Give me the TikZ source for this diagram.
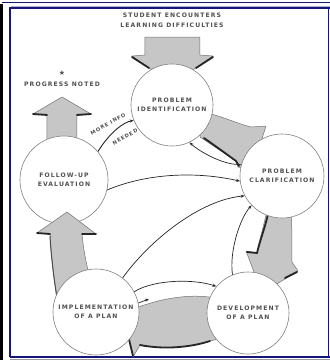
\documentclass[tikz,border=0pt]{standalone}
\usepackage{fontspec}
\newfontfamily\lblfont[LetterSpace=18]{DejaVu Sans}
\newfontfamily\symfont{DejaVu Sans}
\usetikzlibrary{arrows.meta}
\definecolor{navy}{RGB}{22,22,120}
\definecolor{bandgray}{RGB}{198,198,198}
\definecolor{inkgray}{RGB}{80,80,80}
\begin{document}
\begin{tikzpicture}[x=1pt,y=-1pt,
  stage/.style={circle,draw=black!50,line width=0.6pt,fill=white,inner sep=0pt,
    font=\lblfont\bfseries\fontsize{6.1}{9.5}\selectfont,text=inkgray,align=center},
  caption/.style={font=\lblfont\bfseries\fontsize{6.1}{9.5}\selectfont,text=inkgray,
    align=center,inner sep=0pt},
  smallcap/.style={caption,font=\lblfont\bfseries\fontsize{5.1}{6}\selectfont,rotate=29},
  band/.style={fill=bandgray,draw=black!55,line width=0.5pt,line join=round},
  rim/.style={draw=black!85,line width=1.8pt,line cap=round},
  link/.style={draw=black!85,line width=0.7pt,-{Stealth[length=4pt,width=3pt]}}
]
\useasboundingbox (0,0) rectangle (330,360);
\fill[white] (0,0) rectangle (330,360);

% page frame
\fill[black] (0,4) rectangle (3,360);
\draw[navy,line width=1.6pt] (2,2.5) -- (330,2.5);
\draw[navy!35,line width=0.8pt] (11,6.3) -- (330,6.3);
\draw[navy,line width=2pt] (10,357) -- (10,8.3) -- (330,8.3);
\draw[navy,line width=2pt] (10,356.7) -- (330,356.7);
\draw[navy,line width=1.2pt] (328.6,8.3) -- (328.6,356.7);
\draw[black!40,line width=0.8pt] (10,359.4) -- (330,359.4);

% entry arrow: student encounters difficulties
\path[band] (145,37) -- (200,37) -- (200,55) -- (213,56) -- (172,84) -- (132,56) -- (145,55) -- cycle;
\draw[rim] (132,57) -- (149,68);
\draw[rim] (196,68) -- (213,57);

% exit arrow: progress noted
\path[band] (47,148) -- (47,114) -- (33,114) -- (62,97) -- (91,114) -- (77,114) -- (77,148) -- cycle;
\draw[rim] (33,114) -- (47,115);
\draw[rim] (77,115) -- (91,114);

% identification -> clarification
\path[band] (203,112) .. controls (222,116) and (238,124) .. (251,127) -- (266,126)
  -- (252,170) -- (238,167) -- (236,161) .. controls (224,153) and (212,145) .. (200,137) -- cycle;
\draw[rim] (204,138) .. controls (214,145) and (225,153) .. (236,161) -- (239,166);

% clarification -> development
\path[band] (268,205) -- (291,205) .. controls (292,225) and (292,245) .. (292,262) -- (298,271)
  -- (262,293) -- (246,251) -- (257,253) .. controls (260,237) and (265,222) .. (268,205) -- cycle;
\draw[rim] (268,214) .. controls (265,228) and (260,240) .. (257,253) -- (247,252);
\draw[rim] (285,278) -- (297,272);

% development -> implementation
\path[band] (220,299) .. controls (200,294) and (170,295) .. (136,308) -- (133,296) -- (124,318)
  -- (133,357) -- (140,345) .. controls (165,350) and (195,347) .. (220,338) -- cycle;
\draw[rim] (140,345) .. controls (165,350) and (192,347) .. (210,341);
\draw[rim] (127,331) -- (133,356);

% stages
\node[stage,minimum size=82pt] (pid) at (172,105) {PROBLEM\\IDENTIFICATION};
\node[stage,minimum size=84pt] (pcl) at (282,176) {PROBLEM\\CLARIFICATION};
\node[stage,minimum size=88pt] (fup) at (64,180) {FOLLOW-UP\\EVALUATION};
\node[stage,minimum size=82pt] (dev) at (248,313) {DEVELOPMENT\\OF A PLAN};

% implementation -> follow-up
\path[band] (58,302) .. controls (54,280) and (51,255) .. (50,234) -- (37,233) -- (67,212)
  -- (96,234) -- (82,234) .. controls (84,255) and (88,272) .. (93,288) -- cycle;
\draw[black!70,line width=1pt] (50,236) .. controls (51,255) and (54,280) .. (57,298);
\draw[rim] (37,233) -- (50,234);
\draw[rim] (82,234) -- (96,234);

\node[stage,minimum size=86pt] (imp) at (96,312) {IMPLEMENTATION\\OF A PLAN};

% captions
\node[caption] (enc) at (172,20.5) {STUDENT ENCOUNTERS\\LEARNING DIFFICULTIES};
\node[font=\symfont\fontsize{7}{7}\selectfont,text=inkgray,inner sep=0pt] (star) at (62,73) {★};
\node[caption] (prog) at (62,84) {PROGRESS NOTED};

% thin connectors
\draw[link,line width=0.9pt] (fup.40) .. controls (110,132) and (124,122) .. (pid.202);
\node[smallcap] (more) at (108,124) {MORE INFO};
\node[smallcap] (need) at (125,137) {NEEDED};
\draw[link] (pcl.164) .. controls (225,166) and (200,152) .. (pid.-65);
\draw[link] (fup.-13) .. controls (150,172) and (200,172) .. (pcl.187);
\draw[link] (imp.52) .. controls (150,240) and (200,200) .. (pcl.208);
\draw[link] (dev.112) .. controls (229,252) and (240,218) .. (pcl.224);
\draw[link] (imp.28) .. controls (155,279) and (195,279) .. (dev.140);
\coordinate (gtip) at (149,299);
\draw[link] (imp.12) -- (gtip);
\end{tikzpicture}
\end{document}
